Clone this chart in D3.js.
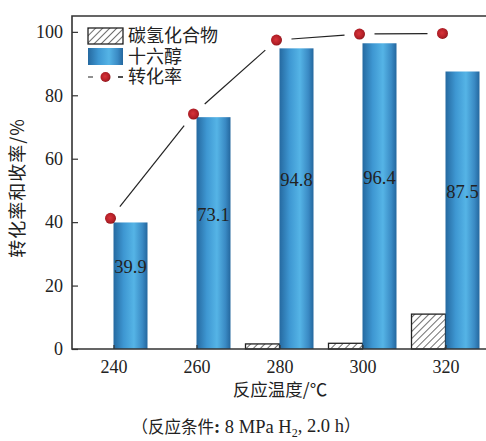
<!DOCTYPE html>
<html>
<head>
<meta charset="utf-8">
<script src="https://cdn.jsdelivr.net/npm/d3@7"></script>
<style>
  body { margin: 0; background: #fff; }
  text { fill: #222; }
</style>
</head>
<body>
<div id="chart"></div>
<script>
// data
const temps = [240, 260, 280, 300, 320];
const hydrocarbon = [0, 0, 1.6, 1.8, 11.0];
const hexadecanol = [39.9, 73.1, 94.8, 96.4, 87.5];
const conversion = [41.2, 74.1, 97.4, 99.3, 99.5];
const yTicks = [0, 20, 40, 60, 80, 100];
const legendNames = ["碳氢化合物", "十六醇", "转化率"];

const W = 486, H = 441;
const margin = {top: 16, right: 0, bottom: 92, left: 72};

const svg = d3.select("#chart").append("svg")
  .attr("width", W)
  .attr("height", H);

const defs = svg.append("defs");

// blue cylinder-ish gradient for bars
const blue = defs.append("linearGradient").attr("id", "blueGrad")
  .attr("x1", "0%").attr("x2", "100%").attr("y1", "0%").attr("y2", "0%");
blue.append("stop").attr("offset", "0%").attr("stop-color", "#2569a0");
blue.append("stop").attr("offset", "30%").attr("stop-color", "#3e97d2");
blue.append("stop").attr("offset", "60%").attr("stop-color", "#55b4e6");
blue.append("stop").attr("offset", "85%").attr("stop-color", "#3a8ac4");
blue.append("stop").attr("offset", "100%").attr("stop-color", "#24679e");

// hatch pattern
const hatch = defs.append("pattern").attr("id", "hatch")
  .attr("patternUnits", "userSpaceOnUse")
  .attr("width", 5).attr("height", 5)
  .attr("patternTransform", "rotate(45)");
hatch.append("rect").attr("width", 5).attr("height", 5).attr("fill", "#fff");
hatch.append("line").attr("x1", 0).attr("y1", 0).attr("x2", 0).attr("y2", 5)
  .attr("stroke", "#222").attr("stroke-width", 1.3);

// red sphere marker
const red = defs.append("radialGradient").attr("id", "redGrad")
  .attr("cx", "45%").attr("cy", "45%").attr("r", "60%");
red.append("stop").attr("offset", "0%").attr("stop-color", "#d8333a");
red.append("stop").attr("offset", "70%").attr("stop-color", "#b01e26");
red.append("stop").attr("offset", "100%").attr("stop-color", "#7d1418");

const x = d3.scaleLinear().domain([230, 330]).range([margin.left, 487]);
const y = d3.scaleLinear().domain([0, 105]).range([H - margin.bottom, margin.top]);
const barW = 34;

const serif = "'Liberation Serif', 'Times New Roman', serif";
const cjk = "'Noto Sans CJK SC', sans-serif";

// hydrocarbon bars (left of tick)
svg.append("g").selectAll("rect")
  .data(temps.map((t, i) => ({t, v: hydrocarbon[i]})).filter(d => d.v > 0))
  .join("rect")
  .attr("x", d => x(d.t) - barW)
  .attr("y", d => y(d.v))
  .attr("width", barW)
  .attr("height", d => y(0) - y(d.v))
  .attr("fill", "url(#hatch)")
  .attr("stroke", "#222")
  .attr("stroke-width", 1.3);

// hexadecanol bars (right of tick)
svg.append("g").selectAll("rect")
  .data(temps.map((t, i) => ({t, v: hexadecanol[i]})))
  .join("rect")
  .attr("x", d => x(d.t))
  .attr("y", d => y(d.v))
  .attr("width", barW)
  .attr("height", d => y(0) - y(d.v))
  .attr("fill", "url(#blueGrad)");

// value labels inside blue bars, a bit above half height
svg.append("g").selectAll("text")
  .data(temps.map((t, i) => ({t, v: hexadecanol[i]})))
  .join("text")
  .attr("x", d => x(d.t) + barW / 2)
  .attr("y", d => y(d.v / 2 + 6))
  .attr("dy", "0.35em")
  .attr("text-anchor", "middle")
  .style("font-family", serif)
  .style("font-size", "18.5px")
  .text(d => d.v.toFixed(1));

// conversion line: segments with gaps around markers
const pts = temps.map((t, i) => [x(t) - 3, y(conversion[i])]);
const gap = 15;
const segs = d3.pairs(pts).map(([a, b]) => {
  const dx = b[0] - a[0], dy = b[1] - a[1];
  const len = Math.hypot(dx, dy);
  const ux = dx / len, uy = dy / len;
  return [a[0] + ux * gap, a[1] + uy * gap, b[0] - ux * gap, b[1] - uy * gap];
});
svg.append("g").selectAll("line")
  .data(segs)
  .join("line")
  .attr("x1", d => d[0]).attr("y1", d => d[1])
  .attr("x2", d => d[2]).attr("y2", d => d[3])
  .attr("stroke", "#222")
  .attr("stroke-width", 1.2);

svg.append("g").selectAll("circle")
  .data(pts)
  .join("circle")
  .attr("cx", d => d[0])
  .attr("cy", d => d[1])
  .attr("r", 5.5)
  .attr("fill", "url(#redGrad)");

// axes
const yAxis = svg.append("g")
  .attr("transform", `translate(${margin.left},0)`)
  .call(d3.axisRight(y).tickValues(yTicks).tickSize(6).tickSizeOuter(0));
yAxis.select(".domain").remove();
yAxis.selectAll(".tick line").attr("stroke", "#333").attr("stroke-width", 1.2);
yAxis.selectAll(".tick text")
  .attr("x", -9)
  .attr("text-anchor", "end")
  .style("font-family", serif)
  .style("font-size", "18px");

const xAxis = svg.append("g")
  .attr("transform", `translate(0,${y(0)})`)
  .call(d3.axisTop(x).tickValues(temps).tickSize(4).tickSizeOuter(0).tickFormat(d3.format("d")));
xAxis.select(".domain").remove();
xAxis.selectAll(".tick line").attr("stroke", "#333").attr("stroke-width", 1.2);
xAxis.selectAll(".tick text")
  .attr("y", 18)
  .attr("dy", "0.35em")
  .style("font-family", serif)
  .style("font-size", "18px");

// frame
svg.append("path")
  .attr("d", `M${W},${margin.top}H${margin.left}V${y(0)}H${W}`)
  .attr("fill", "none")
  .attr("stroke", "#333")
  .attr("stroke-width", 1.6);

// axis titles
svg.append("text")
  .attr("transform", `translate(18,188) rotate(-90)`)
  .attr("text-anchor", "middle")
  .attr("dy", "0.35em")
  .style("font-family", cjk)
  .style("font-size", "18px")
  .style("letter-spacing", "1px")
  .text("转化率和收率/%");

svg.append("text")
  .attr("x", 280)
  .attr("y", 390)
  .attr("dy", "0.35em")
  .attr("text-anchor", "middle")
  .style("font-family", cjk)
  .style("font-size", "17.5px")
  .text("反应温度/℃");

const cap = svg.append("text")
  .attr("x", 246)
  .attr("y", 427)
  .attr("dy", "0.35em")
  .attr("text-anchor", "middle")
  .style("font-family", serif)
  .style("font-size", "18.5px");
cap.append("tspan").style("font-family", cjk).style("font-size", "16.5px").text("（反应条件");
cap.append("tspan").style("font-weight", "bold").text(":");
cap.append("tspan").text(" 8 MPa H");
cap.append("tspan").attr("dy", "0.3em").style("font-size", "12px").text("2");
cap.append("tspan").attr("dy", "-0.3em").text(", 2.0 h");
cap.append("tspan").style("font-family", cjk).style("font-size", "16.5px").text("）");

// legend
const lg = svg.append("g").attr("transform", "translate(88,28)");
lg.append("rect").attr("width", 35).attr("height", 16)
  .attr("fill", "url(#hatch)").attr("stroke", "#222").attr("stroke-width", 1.3);
lg.append("rect").attr("y", 20).attr("width", 35).attr("height", 17)
  .attr("fill", "url(#blueGrad)");
lg.append("line").attr("x1", 0).attr("x2", 35).attr("y1", 49).attr("y2", 49)
  .attr("stroke", "#222").attr("stroke-width", 1.2).attr("stroke-dasharray", "5,25");
lg.append("line").attr("x1", 30).attr("x2", 35).attr("y1", 49).attr("y2", 49)
  .attr("stroke", "#222").attr("stroke-width", 1.2);
lg.append("circle").attr("cx", 17.5).attr("cy", 49).attr("r", 5)
  .attr("fill", "url(#redGrad)");
lg.selectAll("text.lab")
  .data(legendNames)
  .join("text")
  .attr("class", "lab")
  .attr("x", 40)
  .attr("y", (d, i) => [8, 29, 49][i])
  .attr("dy", "0.35em")
  .style("font-family", cjk)
  .style("font-size", "18px")
  .text(d => d);
</script>
</body>
</html>
